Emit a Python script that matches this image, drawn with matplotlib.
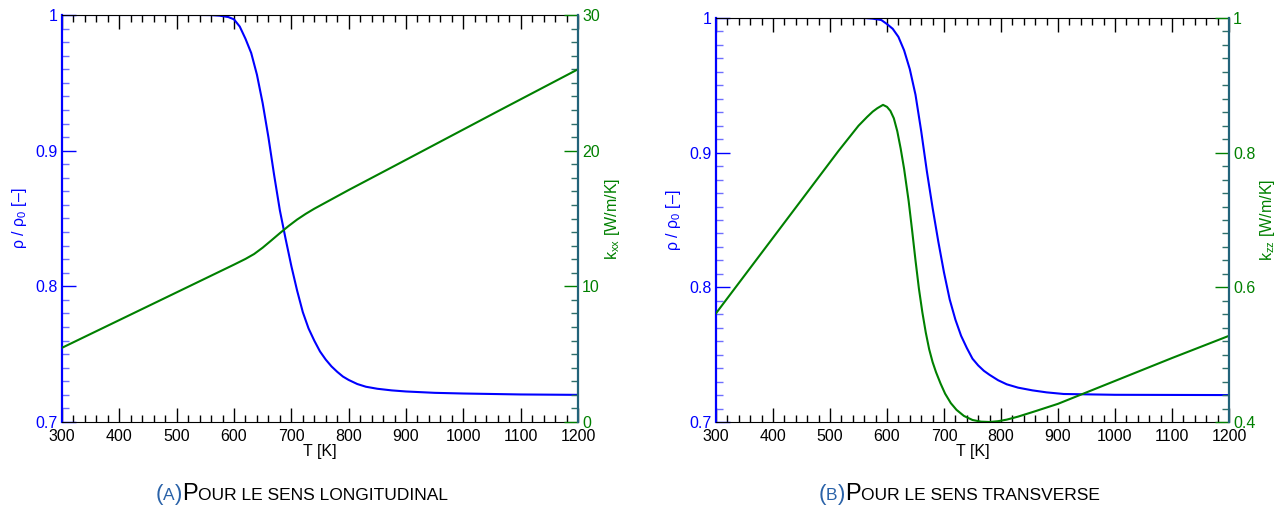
import matplotlib
matplotlib.use("Agg")
import matplotlib.pyplot as plt
from matplotlib.ticker import MultipleLocator
from matplotlib.offsetbox import TextArea, HPacker, AnchoredOffsetbox

plt.rcParams['font.family'] = ['Liberation Sans', 'DejaVu Sans']
plt.rcParams['mathtext.fontset'] = 'custom'
plt.rcParams['mathtext.rm'] = 'Liberation Sans'

BLUE = '#0000ff'
GREEN = '#008000'
TEAL = '#22637a'
CAP_BLUE = '#2a62a8'

# (a) sens longitudinal : densité relative et k_xx
temp_rho_a = [300, 540, 560, 575, 590, 600, 610, 620, 630, 640, 650, 660, 670,
              680, 690, 700, 710, 720, 730, 740, 750, 760, 770, 780, 790, 800,
              815, 830, 850, 875, 900, 950, 1000, 1100, 1200]
rho_a = [1.0, 1.0, 0.9999, 0.9995, 0.9985, 0.9968, 0.9915, 0.9825, 0.972,
         0.956, 0.935, 0.910, 0.882, 0.856, 0.835, 0.815, 0.797, 0.781, 0.769,
         0.760, 0.752, 0.746, 0.741, 0.737, 0.7335, 0.731, 0.728, 0.726,
         0.7245, 0.7233, 0.7225, 0.7215, 0.721, 0.7203, 0.7200]
temp_k_a = [300, 600, 620, 635, 650, 665, 680, 695, 710, 725, 740, 760, 780,
            800, 880, 1060, 1200]
k_a = [5.47, 11.6, 12.02, 12.38, 12.85, 13.38, 13.92, 14.44, 14.92, 15.34,
       15.72, 16.18, 16.64, 17.1, 18.88, 22.9, 26.0]

# (b) sens transverse : densité relative et k_zz
temp_rho_b = [300, 560, 575, 590, 600, 610, 620, 630, 640, 650, 660, 670, 680,
              690, 700, 710, 720, 730, 740, 750, 760, 770, 780, 795, 810, 830,
              855, 880, 910, 1000, 1200]
rho_b = [1.0, 1.0, 0.9995, 0.9985, 0.9955, 0.992, 0.986, 0.976, 0.962, 0.943,
         0.916, 0.886, 0.859, 0.834, 0.811, 0.791, 0.776, 0.764, 0.755, 0.747,
         0.742, 0.738, 0.735, 0.731, 0.728, 0.7255, 0.7235, 0.722, 0.7208,
         0.7202, 0.7200]
temp_k_b = [300, 515, 550, 565, 575, 583, 593, 600, 606, 612, 618, 624, 630,
            638, 644, 650, 656, 662, 668, 674, 680, 686, 694, 702, 712, 722,
            735, 750, 765, 780, 795, 810, 830, 860, 900, 1000, 1100, 1200]
k_b = [0.5614, 0.8027, 0.840, 0.853, 0.861, 0.866, 0.871, 0.868, 0.862, 0.851,
       0.832, 0.806, 0.776, 0.728, 0.685, 0.640, 0.598, 0.563, 0.533, 0.508,
       0.489, 0.474, 0.457, 0.442, 0.428, 0.418, 0.409, 0.403, 0.4005, 0.400,
       0.4012, 0.4035, 0.408, 0.416, 0.427, 0.461, 0.495, 0.528]

panels = [
    dict(t_rho=temp_rho_a, rho=rho_a, t_k=temp_k_a, k=k_a,
         klim=(0, 30), kmaj=10, kmin=1, klabel=r'k$_\mathrm{xx}$ [W/m/K]',
         pos=[62/1285, 1-422/508, 516/1285, 407/508],
         cap=('A', 'OUR LE SENS LONGITUDINAL'), capx=302/1285),
    dict(t_rho=temp_rho_b, rho=rho_b, t_k=temp_k_b, k=k_b,
         klim=(0.4, 1), kmaj=0.2, kmin=0.02, klabel=r'k$_\mathrm{zz}$ [W/m/K]',
         pos=[716/1285, 1-422/508, 513/1285, 404/508],
         cap=('B', 'OUR LE SENS TRANSVERSE'), capx=959/1285),
]

fig = plt.figure(figsize=(12.85, 5.08), dpi=100)

for p in panels:
    ax = fig.add_axes(p['pos'])
    ax2 = ax.twinx()

    ax.plot(p['t_rho'], p['rho'], color=BLUE, lw=1.5)
    ax2.plot(p['t_k'], p['k'], color=GREEN, lw=1.5)

    ax.set_xlim(300, 1200)
    ax.set_ylim(0.7, 1.0)
    ax2.set_ylim(*p['klim'])

    ax.xaxis.set_major_locator(MultipleLocator(100))
    ax.xaxis.set_minor_locator(MultipleLocator(20))
    ax.yaxis.set_major_locator(MultipleLocator(0.1))
    ax.yaxis.set_minor_locator(MultipleLocator(0.01))
    ax2.yaxis.set_major_locator(MultipleLocator(p['kmaj']))
    ax2.yaxis.set_minor_locator(MultipleLocator(p['kmin']))
    ax.yaxis.set_major_formatter(lambda v, pos: f'{v:g}')
    ax2.yaxis.set_major_formatter(lambda v, pos: f'{v:g}')

    ax.tick_params(axis='x', which='both', direction='in', top=True,
                   bottom=True, labelsize=11.5, pad=5)
    ax.tick_params(axis='x', which='major', length=10, width=1)
    ax.tick_params(axis='x', which='minor', length=5, width=1)
    ax.tick_params(axis='y', which='both', direction='in', left=True,
                   right=False, colors=BLUE, labelsize=11.5, pad=3)
    ax.tick_params(axis='y', which='major', length=10, width=1)
    ax.tick_params(axis='y', which='minor', length=5, width=1, color='#6f6fff')
    ax2.tick_params(axis='y', which='both', direction='in', right=True,
                    left=False, colors=GREEN, labelsize=11.5, pad=3)
    ax2.tick_params(axis='y', which='major', length=10, width=1)
    ax2.tick_params(axis='y', which='minor', length=5, width=1, color='#2e6f6a')

    ax.spines['left'].set_color(BLUE)
    ax.spines['left'].set_linewidth(1.6)
    ax.spines['right'].set_visible(False)
    ax2.spines['left'].set_visible(False)
    ax2.spines['top'].set_visible(False)
    ax2.spines['bottom'].set_visible(False)
    ax2.spines['right'].set_color(TEAL)
    ax2.spines['right'].set_linewidth(1.6)

    ax.set_xlabel('T [K]', fontsize=11.5, labelpad=0)
    ax.set_ylabel(r'ρ / ρ$_0$ [–]', fontsize=11.5, color=BLUE, labelpad=5)
    ax2.set_ylabel(p['klabel'], fontsize=11.5, color=GREEN, rotation=90,
                   labelpad=2)

    # légende en petites capitales
    letter, rest = p['cap']
    parts = [
        TextArea('(', textprops=dict(color=CAP_BLUE, fontsize=16)),
        TextArea(letter, textprops=dict(color=CAP_BLUE, fontsize=12.5)),
        TextArea(')', textprops=dict(color=CAP_BLUE, fontsize=16)),
        TextArea('P', textprops=dict(color='black', fontsize=17)),
        TextArea(rest, textprops=dict(color='black', fontsize=12.5)),
    ]
    box = HPacker(children=parts, align='baseline', pad=0, sep=0)
    anch = AnchoredOffsetbox(loc='center', child=box, pad=0, frameon=False,
                             bbox_to_anchor=(p['capx'], 1 - 494/508),
                             bbox_transform=fig.transFigure, borderpad=0)
    fig.add_artist(anch)

fig.savefig('out.png', dpi=100)
